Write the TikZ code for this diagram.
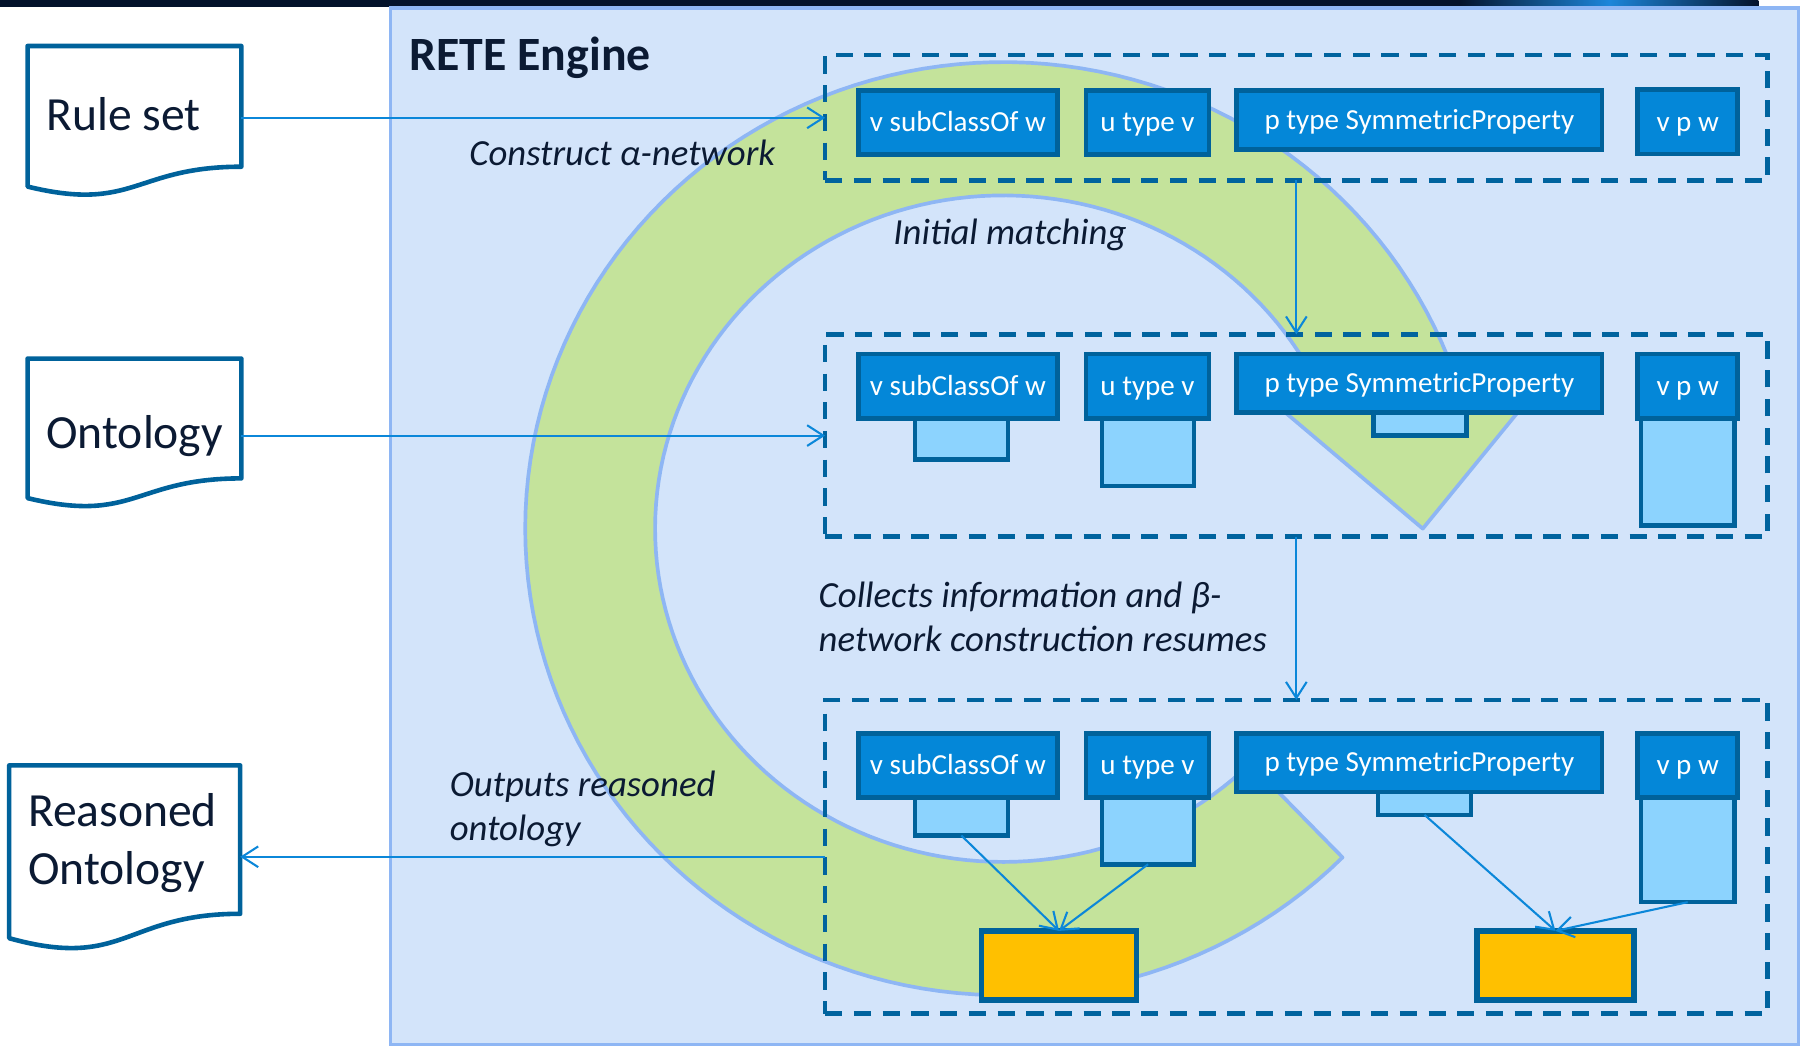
\documentclass[tikz,border=0pt]{standalone}
\usepackage{fontspec}
\setmainfont{Carlito}
\usetikzlibrary{arrows.meta,fit}
\definecolor{barnavy}{HTML}{03122B}
\definecolor{swirl}{HTML}{1D86DA}
\definecolor{retefill}{HTML}{D3E4FA}
\definecolor{reteline}{HTML}{8EB6F4}
\definecolor{ringgreen}{HTML}{C4E39B}
\definecolor{dashc}{HTML}{00639E}
\definecolor{hdrfill}{HTML}{0487D8}
\definecolor{hdrline}{HTML}{00629B}
\definecolor{lightfill}{HTML}{8CD3FE}
\definecolor{yel}{HTML}{FFC000}
\definecolor{arrowc}{HTML}{0B87D9}
\definecolor{txt}{HTML}{0B1A33}
% x y w h : flowchart document outline
\newcommand\mydocshape[4]{%
  \draw[docline] (#1,#2) -- ({#1+#3},#2) -- ({#1+#3},{#2+0.802*#4})
    .. controls ({#1+0.5*#3},{#2+0.802*#4}) and ({#1+0.5*#3},{#2+1.1075*#4}) .. (#1,{#2+0.934*#4}) -- cycle;}
\begin{document}
\begin{tikzpicture}[x=0.5pt,y=-0.5pt,
  docline/.style={draw=hdrline, fill=white, line width=2pt, line join=round},
  area/.style={inner sep=0pt, outer sep=0pt},
  doctext/.style={text=txt, font=\fontsize{20.7}{25}\selectfont, inner sep=0pt, anchor=base west},
  dashbox/.style={draw=dashc, line width=2pt, dash pattern=on 7.5pt off 5pt, inner sep=0pt, outer sep=0pt},
  hdr/.style={draw=hdrline, fill=hdrfill, line width=2pt, text=white, inner sep=0pt, outer sep=0pt,
    font=\fontsize{12.65}{15}\selectfont, text height=9.5pt, text depth=1.3pt},
  lbox/.style={draw=hdrline, fill=lightfill, line width=2pt, inner sep=0pt, outer sep=0pt},
  ybox/.style={draw=hdrline, fill=yel, line width=2.5pt, inner sep=0pt, outer sep=0pt},
  conn/.style={draw=arrowc, line width=0.9pt, -{Straight Barb[length=7pt,width=9pt]}},
  note/.style={text=txt, font=\fontsize{16}{19}\selectfont\itshape, inner sep=0pt, align=left},
  wA/.style={minimum width=86.5pt}, wB/.style={minimum width=53.5pt},
  wC/.style={minimum width=159pt}, wD/.style={minimum width=43.5pt},
  hH/.style={minimum height=28pt}, hC/.style={minimum height=25.5pt},
]
\useasboundingbox (0,0) rectangle (1568,911);
% top bar
\fill[barnavy] (0,0) rectangle (1530,6);
\shade[left color=barnavy, right color=barnavy, middle color=swirl] (1270,0) rectangle (1530,6);
% engine container
\node[area, fit={(340,7) (1565,909)}, draw=reteline, fill=retefill, line width=1.5pt] (rete) {};
% green circular arrow
\filldraw[fill=ringgreen, draw=reteline, line width=1.6pt, line join=round]
  plot[domain=44.8:338.6, samples=140, variable=\t] ({873+416*cos(\t)},{460+406*sin(\t)})
  -- (1336,340) -- (1238,460) -- (1096,340)
  -- plot[domain=44.8:330, samples=140, variable=\s] ({873+303*cos(374.8-\s)},{460+290*sin(374.8-\s)})
  -- cycle;
% dashed stage boxes
\node[dashbox, fit={(718,48) (1538,157)}] (box1) {};
\node[dashbox, fit={(718,291) (1538,467)}] (box2) {};
\node[dashbox, fit={(718,609) (1538,882)}] (box3) {};
% row 1
\node[hdr, wA, hH] (a1) at (833.5,106.5) {v subClassOf w};
\node[hdr, wB, hH] (b1) at (998.5,106.5) {u type v};
\node[hdr, wC, hC] (c1) at (1235,104.5) {p type SymmetricProperty};
\node[hdr, wD, hH] (d1) at (1468.5,106) {v p w};
% row 2
\node[lbox, minimum width=40.5pt, minimum height=19pt] (la2) at (836.5,381) {};
\node[lbox, minimum width=40pt, minimum height=30.5pt] (lb2) at (999,392.5) {};
\node[lbox, minimum width=40.5pt, minimum height=11pt] (lc2) at (1235.5,368) {};
\node[lbox, minimum width=40.5pt, minimum height=47.5pt] (ld2) at (1468.5,409.5) {};
\node[hdr, wA, hH] (a2) at (833.5,336) {v subClassOf w};
\node[hdr, wB, hH] (b2) at (998.5,336) {u type v};
\node[hdr, wC, hC] (c2) at (1235,333.5) {p type SymmetricProperty};
\node[hdr, wD, hH] (d2) at (1468.5,336) {v p w};
% row 3
\node[lbox, minimum width=40.5pt, minimum height=17.5pt] (la3) at (836.5,709.5) {};
\node[lbox, minimum width=40pt, minimum height=30pt] (lb3) at (999,722) {};
\node[lbox, minimum width=40.5pt, minimum height=11pt] (lc3) at (1239.5,698) {};
\node[lbox, minimum width=40.5pt, minimum height=46.5pt] (ld3) at (1468.5,738.5) {};
\node[hdr, wA, hH] (a3) at (833.5,666) {v subClassOf w};
\node[hdr, wB, hH] (b3) at (998.5,666) {u type v};
\node[hdr, wC, hC] (c3) at (1235,663.5) {p type SymmetricProperty};
\node[hdr, wD, hH] (d3) at (1468.5,666) {v p w};
\node[ybox, minimum width=67.5pt, minimum height=30pt] (y1) at (921.5,840) {};
\node[ybox, minimum width=68.5pt, minimum height=30pt] (y2) at (1353.5,840) {};
% documents
\mydocshape{24}{40}{186}{131}
\mydocshape{24}{312}{186}{130}
\mydocshape{8}{666}{201}{161}
\node[area, fit={(24,40) (210,171)}] (rule) {};
\node[area, fit={(24,312) (210,442)}] (onto) {};
\node[area, fit={(8,666) (209,827)}] (reas) {};
\node[doctext] (ruletxt) at (40,113.7) {Rule set};
\node[doctext] (ontotxt) at (40,390.5) {Ontology};
\node[doctext, anchor=north west, align=left] (reastxt) at (24,684) {\strut Reasoned\\Ontology};
% connectors
\draw[conn] (box1.west -| rule.east) -- (box1.west);
\draw[conn] (box2.west -| onto.east) -- (box2.west);
\draw[conn] (box3.west) -- (box3.west -| reas.east);
\draw[conn] (box1.south) -- (box2.north);
\draw[conn] (box2.south) -- (box3.north);
\draw[conn] (la3.south) -- (y1.north);
\draw[conn] (lb3.south) -- (y1.north);
\draw[conn] (lc3.south) -- (y2.north);
\draw[conn] (ld3.south) -- (y2.north);
% labels
\node[anchor=base west, inner sep=0pt, text=txt, font=\fontsize{20.8}{25}\selectfont\bfseries] (title) at (356,61.5) {RETE Engine};
\node[note, anchor=base west] (lconstruct) at (408,143.6) {Construct α-network};
\node[note, anchor=base west] (linit) at (777,213) {Initial matching};
\node[note, anchor=north west] (lcollect) at (712,501.9) {\strut Collects information and β-\\network construction resumes};
\node[note, anchor=north west] (loutput) at (391,666.4) {\strut Outputs reasoned\\ontology};
\end{tikzpicture}
\end{document}
